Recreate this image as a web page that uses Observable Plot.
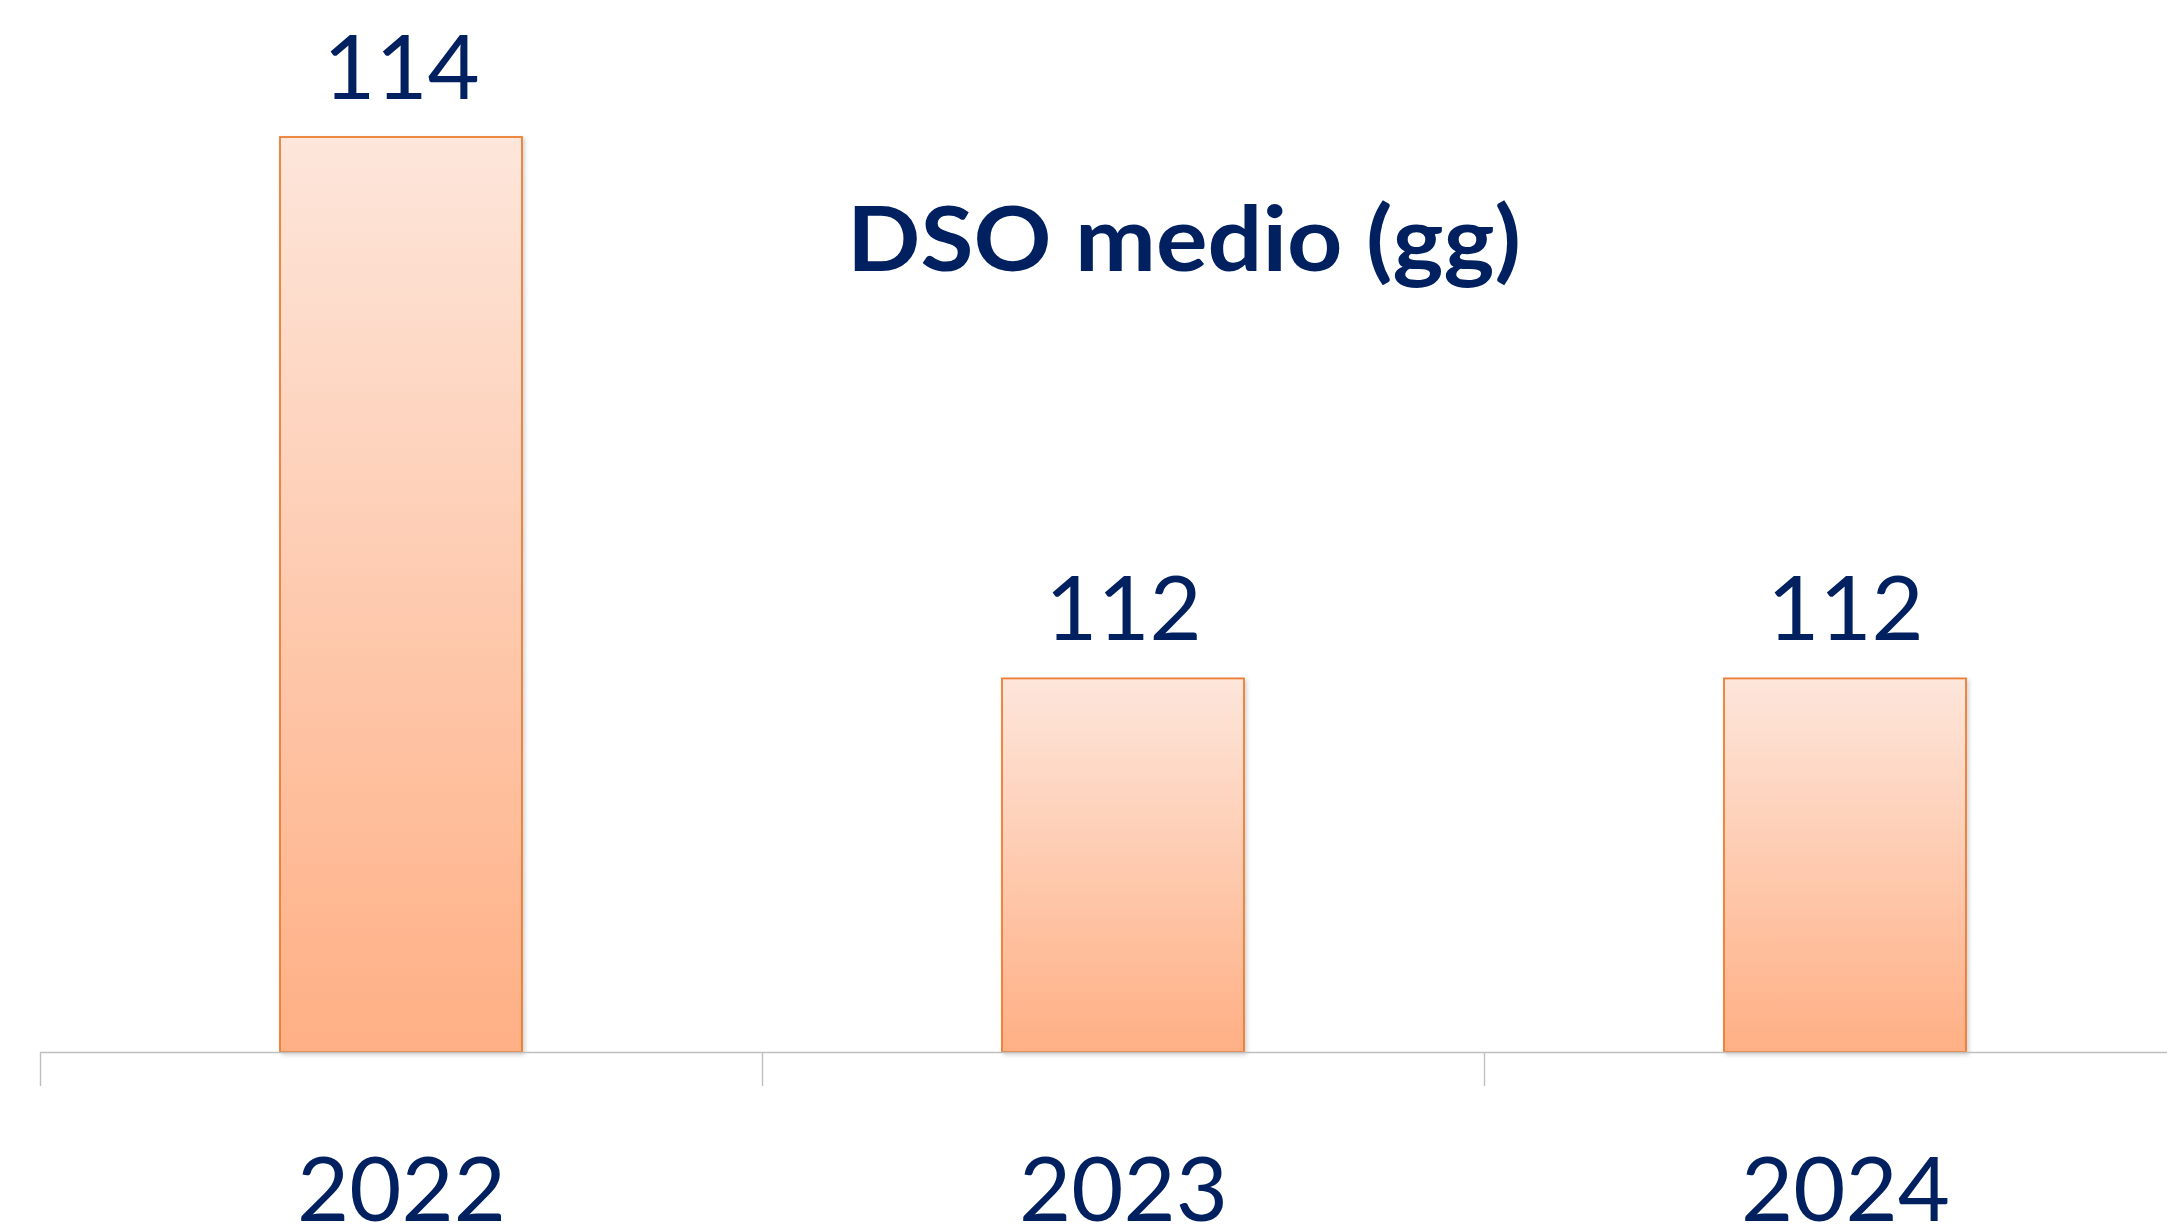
<!DOCTYPE html>
<html>
<head>
<meta charset="utf-8">
<script src="https://cdn.jsdelivr.net/npm/d3@7"></script>
<script src="https://cdn.jsdelivr.net/npm/@observablehq/plot@0.6"></script>
<style>
  html, body { margin: 0; padding: 0; background: #ffffff; }
  #chart svg { display: block; }
</style>
</head>
<body>
<div id="chart"></div>
<script>
const years = ["2022", "2023", "2024"];
const dso = [114, 112, 112];
const valueLabels = ["114", "112", "112"];
const title = "DSO medio (gg)";

const data = years.map((y, i) => ({year: y, value: dso[i], label: valueLabels[i]}));

const W = 2167, H = 1227;
const yMin = 110.62, yMax = 114;
const xRange = [40, 2206];
const padInner = 0.665, padOuter = 0.3325;
const step = (xRange[1] - xRange[0]) / (years.length - padInner + 2 * padOuter);

const navy = "#002060";

const chart = Plot.plot({
  width: W,
  height: H,
  marginLeft: 40,
  marginRight: 0,
  marginTop: 0,
  marginBottom: 0,
  style: {fontFamily: "Lato, 'Open Sans', sans-serif", background: "#ffffff", overflow: "hidden"},
  x: {type: "band", domain: years, range: xRange, paddingInner: padInner, paddingOuter: padOuter, axis: null},
  y: {type: "linear", domain: [yMin, yMax], range: [1052, 137], axis: null},
  marks: [
    Plot.barY(data, {x: "year", y1: yMin, y2: "value", fill: "url(#barGrad)", stroke: "#ED7D31", strokeWidth: 1.8}),
    Plot.ruleY([yMin], {stroke: "#BFBFBF", strokeWidth: 1.6}),
    Plot.ruleX(years, {x: d => d, dx: -step / 2, y1: yMin, y2: yMin, stroke: "#BFBFBF", strokeWidth: 1.4, insetBottom: -34}),
    Plot.text(data, {x: "year", y: "value", text: "label", lineAnchor: "bottom", dy: -39, fill: navy, fontSize: 90}),
    Plot.text(years, {x: d => d, frameAnchor: "bottom", lineAnchor: "bottom", dy: -7, text: d => d, fill: navy, fontSize: 90}),
    Plot.text([title], {frameAnchor: "top", lineAnchor: "bottom", dx: 80, dy: 270, text: d => d, fill: navy, fontSize: 90, fontWeight: "bold", className: "title-text"})
  ]
});

// gradient + soft shadow definitions
const ns = "http://www.w3.org/2000/svg";
const defs = document.createElementNS(ns, "defs");
defs.innerHTML = `
  <linearGradient id="barGrad" x1="0" y1="0" x2="0" y2="1">
    <stop offset="0%" stop-color="#FDE6DB"/>
    <stop offset="100%" stop-color="#FFAF84"/>
  </linearGradient>
  <filter id="barShadow" x="-5%" y="-5%" width="115%" height="115%">
    <feDropShadow dx="2" dy="2" stdDeviation="2" flood-color="#000" flood-opacity="0.18"/>
  </filter>`;
chart.insertBefore(defs, chart.firstChild);
chart.querySelectorAll("rect").forEach(r => { if (r.getAttribute("fill") === "url(#barGrad)" || (r.parentNode && r.parentNode.getAttribute("fill") === "url(#barGrad)")) r.setAttribute("filter", "url(#barShadow)"); });

// fit the title to the reference's width
const t = chart.querySelector(".title-text text");
if (t) { t.setAttribute("textLength", 674); t.setAttribute("lengthAdjust", "spacingAndGlyphs"); }

document.getElementById("chart").appendChild(chart);
</script>
</body>
</html>
